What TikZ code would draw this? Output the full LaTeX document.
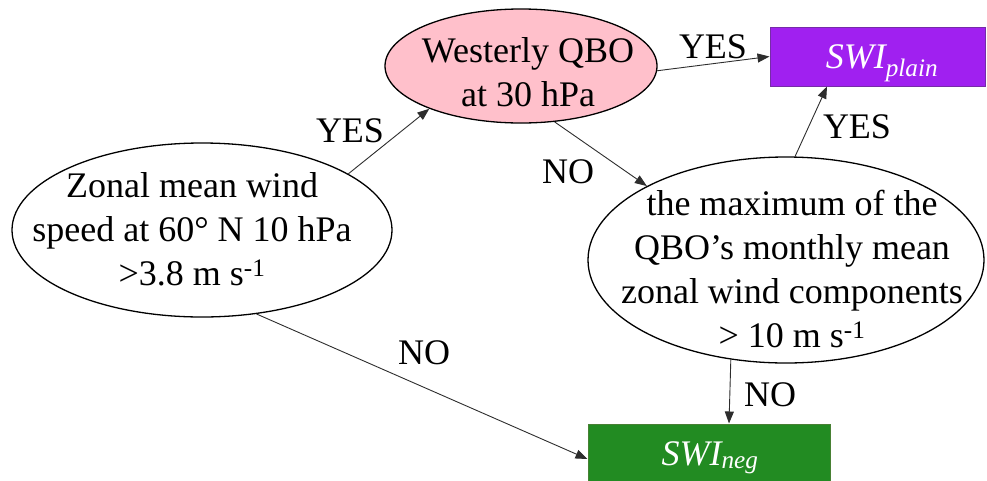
\documentclass[tikz,border=0pt]{standalone}
\usepackage{fontspec}
\setmainfont{Liberation Serif}
\usetikzlibrary{arrows.meta,shapes.geometric}

\definecolor{qbopink}{RGB}{255,192,203}
\definecolor{plainpurple}{RGB}{160,32,240}
\definecolor{plainedge}{RGB}{118,44,168}
\definecolor{neggreen}{RGB}{34,139,34}
\definecolor{negedge}{RGB}{72,128,52}
\definecolor{linkgray}{RGB}{45,45,45}

\begin{document}
\begin{tikzpicture}[x=1pt,y=-1pt,
  every node/.style={font=\fontsize{36}{44}\selectfont},
  decision/.style={draw=black, line width=1.3pt, ellipse, inner sep=0pt},
  outcome/.style={rectangle, inner sep=0pt, line width=1pt},
  caption/.style={align=center, inner sep=0pt},
  swi/.style={inner sep=0pt, anchor=base, text=white},
  answer/.style={inner sep=0pt},
  link/.style={draw=linkgray, line width=0.9pt, -{Triangle[length=12pt,width=9pt]}}
]
\useasboundingbox (0,0) rectangle (987,480);
\clip (0,0) rectangle (987,480);

% decision ellipses
\node[decision, minimum width=380pt, minimum height=174pt] (wind) at (202,230) {};
\node[caption] (windtext) at (192,229)
  {Zonal mean wind\\speed at 60° N 10 hPa\\>3.8 m s\textsuperscript{-1}};

\node[decision, fill=qbopink, minimum width=272pt, minimum height=114pt] (qbo) at (521,66) {};
\node[caption] (qbotext) at (528,72) {Westerly QBO\\at 30 hPa};

\node[decision, minimum width=396pt, minimum height=206pt] (maxw) at (786,260) {};
\node[caption] (maxwtext) at (792,269)
  {the maximum of the\\QBO’s monthly mean\\zonal wind components\\> 10 m s\textsuperscript{-1}};

% outcome boxes
\node[outcome, fill=plainpurple, draw=plainedge, minimum width=215pt, minimum height=59pt] (plain) at (877.5,56.5) {};
\node[swi] (plaintext) at (882,68) {\textit{SWI\textsubscript{plain}}};

\node[outcome, fill=neggreen, draw=negedge, minimum width=242pt, minimum height=66pt] (neg) at (709,457) {};
\node[swi] (negtext) at (710,465) {\textit{SWI\textsubscript{neg}}};

% connectors
\draw[link] (wind.21.5) -- (qbo.205.6);
\draw[link] (qbo.358) -- (plain.west);
\draw[link] (qbo.301.4) -- (maxw.152.4);
\draw[link] (maxw.85) -- ([xshift=-50.5pt]plain.south);
\draw[link] (maxw.241.8) -- ([xshift=20pt]neg.north);
\draw[link] (wind.303.4) -- ([yshift=-2pt]neg.west);

% answers
\node[answer] (yes1) at (350,131) {YES};
\node[answer] (yes2) at (713,47) {YES};
\node[answer] (no1) at (568,172) {NO};
\node[answer] (yes3) at (857,127) {YES};
\node[answer] (no2) at (770,395) {NO};
\node[answer] (no3) at (424,353) {NO};
\end{tikzpicture}
\end{document}
